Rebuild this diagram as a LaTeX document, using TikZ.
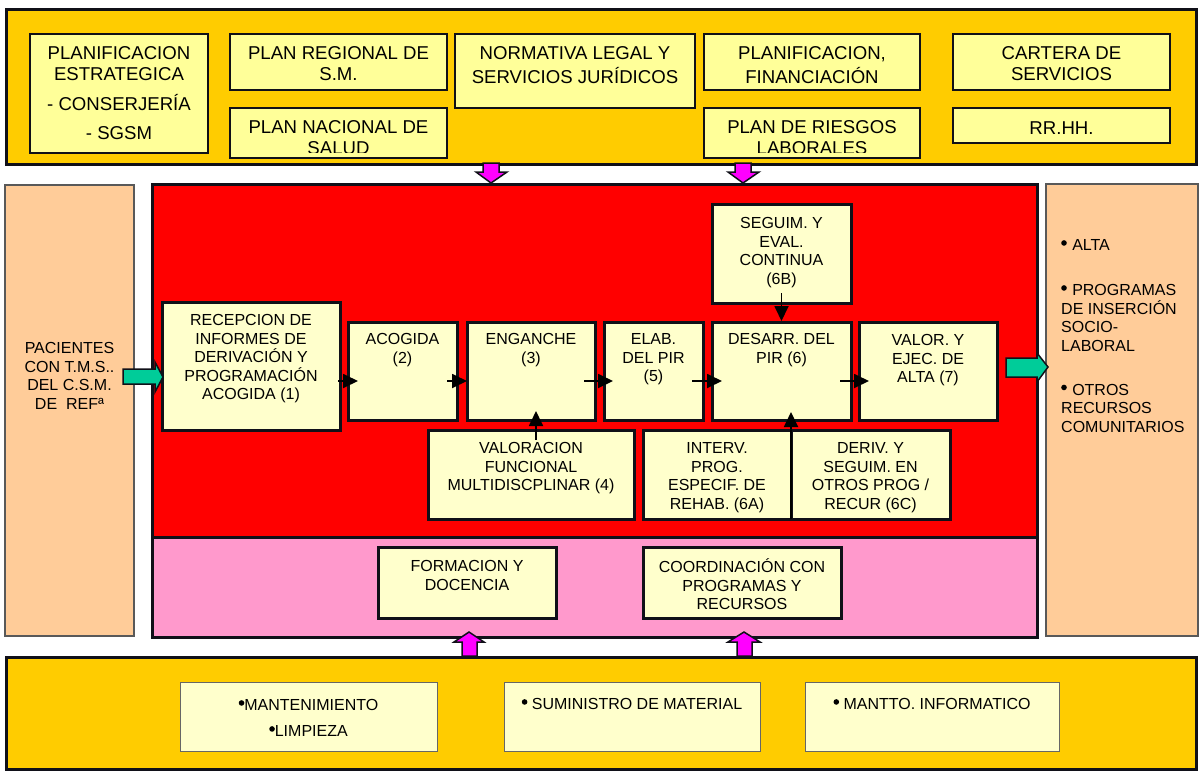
\documentclass[tikz,border=0pt]{standalone}
\usepackage{fontspec}
\setmainfont{Liberation Sans}
\usetikzlibrary{arrows.meta,calc}
\definecolor{gold}{HTML}{FFCC00}
\definecolor{lyel}{HTML}{FFFF99}
\definecolor{cream}{HTML}{FFFFCC}
\definecolor{peach}{HTML}{FFCC99}
\definecolor{pinkz}{HTML}{FF99CC}
\definecolor{redz}{HTML}{FF0000}
\definecolor{greenz}{HTML}{00CC99}
\definecolor{magz}{HTML}{FF00FF}
\definecolor{bd}{HTML}{101018}
\newcommand\mybox[6]{\node[#1, anchor=north west, minimum width={#4-#2}, minimum height={#5-#3}] (#6) at (#2,#3) {};}
\newcommand\bul{\tikz[baseline=-8pt, x=1pt, y=1pt]\fill[black] (0,0) circle (2.8pt);}
\begin{document}
\begin{tikzpicture}[x=1pt,y=-1pt,
  band/.style={draw=bd, line width=3pt, fill=gold, inner sep=0, outer sep=0},
  tbox/.style={draw=bd, line width=2pt, fill=lyel, inner sep=0, outer sep=0},
  mbox/.style={draw=bd, line width=3pt, fill=cream, inner sep=0, outer sep=0},
  bbox/.style={draw=gray!80!black, line width=1pt, fill=cream, inner sep=0, outer sep=0},
  side/.style={draw=gray!70!black, line width=1.2pt, fill=peach, inner sep=0, outer sep=0},
  region/.style={draw=bd, line width=3pt, inner sep=0, outer sep=0},
  ttop/.style={font=\fontsize{18.6}{21}\selectfont, align=center, inner sep=0, anchor=north},
  tmid/.style={font=\fontsize{16}{18.5}\selectfont, align=center, inner sep=0, anchor=north},
  arr/.style={draw=black, line width=1.8pt, -{Triangle[length=15pt,width=14pt]}},
  blockm/.style={draw=bd, line width=1.5pt, fill=magz},
  blockg/.style={draw=bd, line width=1.5pt, fill=greenz},
]
\useasboundingbox (0,0) rectangle (1202,772);
% top band
\mybox{band}{6}{9}{1196}{164}{top}
\mybox{tbox}{30}{34}{208}{153}{planest}
\node[ttop] (planestT) at (119,45) {\strut PLANIFICACION\\ESTRATEGICA\\[9pt]- CONSERJERÍA\\[8pt]- SGSM};
\mybox{tbox}{230}{34}{447}{90}{preg}
\node[ttop] (pregT) at (338.5,45) {\strut PLAN REGIONAL DE\\S.M.};
\mybox{tbox}{230}{108}{447}{158}{pnac}
\begin{scope}
\clip (231,109) rectangle (446,152);
\node[ttop] (pnacT) at (338.5,119) {\strut PLAN NACIONAL DE\\SALUD};
\end{scope}
\mybox{tbox}{455}{34}{695}{108}{norm}
\node[ttop] (normT) at (575,45) {\strut NORMATIVA LEGAL Y\\SERVICIOS JURÍDICOS};
\mybox{tbox}{704}{34}{920}{90}{pfin}
\node[ttop] (pfinT) at (812,45) {\strut PLANIFICACION,\\FINANCIACIÓN};
\mybox{tbox}{704}{108}{920}{158}{ries}
\begin{scope}
\clip (705,109) rectangle (919,152);
\node[ttop] (riesT) at (812,119) {\strut PLAN DE RIESGOS\\LABORALES};
\end{scope}
\mybox{tbox}{953}{34}{1170}{90}{cart}
\node[ttop] (cartT) at (1061.5,45) {\strut CARTERA DE\\SERVICIOS};
\mybox{tbox}{953}{108}{1170}{143}{rrhh}
\node[ttop] (rrhhT) at (1061.5,120) {\strut RR.HH.};
% side boxes
\mybox{side}{5}{185}{134}{636}{lside}
\node[tmid] (lsideT) at (69.5,340.8) {\strut PACIENTES\\CON T.M.S..\\DEL C.S.M.\\DE\ \ REFª};
\mybox{side}{1046}{184}{1198}{636}{rside}
\node[tmid, align=left, anchor=north west] (rsideT) at (1061,237.8) {\strut\bul\kern1pt\ ALTA\\[26.5pt]\bul\kern1pt\ PROGRAMAS\\DE INSERCIÓN\\SOCIO-\\LABORAL\\[25.5pt]\bul\kern1pt\ OTROS\\RECURSOS\\COMUNITARIOS};
% central regions
\mybox{region, fill=redz}{152}{184}{1037}{537}{redreg}
\mybox{region, fill=pinkz}{152}{537}{1037}{637}{pinkreg}
% process boxes
\mybox{mbox}{162}{302}{340}{430}{b1}
\node[tmid] (b1T) at (251,312.8) {\strut RECEPCION DE\\INFORMES DE\\DERIVACIÓN Y\\PROGRAMACIÓN\\ACOGIDA (1)};
\mybox{mbox}{348}{322}{457}{420}{b2}
\node[tmid] (b2T) at (402.5,331.8) {\strut ACOGIDA\\(2)};
\mybox{mbox}{467}{322}{595}{420}{b3}
\node[tmid] (b3T) at (531,331.8) {\strut ENGANCHE\\(3)};
\mybox{mbox}{604}{322}{703}{420}{b5}
\node[tmid] (b5T) at (653.5,331.8) {\strut ELAB.\\DEL PIR\\(5)};
\mybox{mbox}{712}{322}{851}{420}{b6}
\node[tmid] (b6T) at (781.5,331.8) {\strut DESARR. DEL\\PIR (6)};
\mybox{mbox}{712}{204}{851}{303}{b6b}
\node[tmid] (b6bT) at (781.5,215.8) {\strut SEGUIM. Y\\EVAL.\\CONTINUA\\(6B)};
\mybox{mbox}{859}{322}{997}{420}{b7}
\node[tmid] (b7T) at (928,332.8) {\strut VALOR. Y\\EJEC. DE\\ALTA (7)};
\mybox{mbox}{428}{430}{634}{519}{b4}
\node[tmid] (b4T) at (531,440.8) {\strut VALORACION\\FUNCIONAL\\MULTIDISCPLINAR (4)};
\mybox{mbox}{643}{430}{791}{519}{b6a}
\node[tmid] (b6aT) at (717,440.8) {\strut INTERV.\\PROG.\\ESPECIF. DE\\REHAB. (6A)};
\mybox{mbox}{791}{430}{950}{519}{b6c}
\node[tmid] (b6cT) at (870.5,440.8) {\strut DERIV. Y\\SEGUIM. EN\\OTROS PROG /\\RECUR (6C)};
\mybox{mbox}{378}{547}{556}{618}{form}
\node[tmid] (formT) at (467,558.8) {\strut FORMACION Y\\DOCENCIA};
\mybox{mbox}{643}{547}{841}{618}{coord}
\node[tmid] (coordT) at (742,558.8) {\strut COORDINACIÓN CON\\PROGRAMAS Y\\RECURSOS};
% connectors
\draw[arr] ($(b1.east)+(-2,15)$) -- ($(b2.west)+(10,10)$);
\draw[arr] ($(b2.east)+(-10,10)$) -- ($(b3.west)+(0,10)$);
\draw[arr] ($(b3.east)+(-11,10)$) -- ($(b5.west)+(9,10)$);
\draw[arr] ($(b5.east)+(-11,10)$) -- ($(b6.west)+(10,10)$);
\draw[arr] ($(b6.east)+(-11,10)$) -- ($(b7.west)+(10,10)$);
\draw[arr] ($(b6b.south)+(0,-10)$) -- ($(b6.north)+(0,-1)$);
\draw[arr] ($(b4.north)+(5,10)$) -- ($(b3.south)+(5,-9)$);
\draw[arr] (b6a.south east) -- ($(b6.south)+(9.5,-8)$);
% green block arrows
\draw[blockg] (123,369)--(155,369)--(155,362)--(163,377)--(155,392)--(155,384)--(123,384)--cycle;
\draw[blockg] (1006,358)--(1037,358)--(1037,353)--(1048,367)--(1037,382)--(1037,377)--(1006,377)--cycle;
% bottom band
\mybox{band}{6}{657}{1196}{769}{bot}
\mybox{bbox}{180}{682}{437}{751}{mant}
\node[tmid] (mantT) at (308.5,697.8) {\strut\bul MANTENIMIENTO\\[7.5pt]\bul LIMPIEZA};
\mybox{bbox}{504}{682}{760}{751}{sum}
\node[tmid] (sumT) at (632,696.8) {\strut\bul\ SUMINISTRO DE MATERIAL};
\mybox{bbox}{805}{682}{1059}{751}{inf}
\node[tmid] (infT) at (932,696.8) {\strut\bul\ MANTTO. INFORMATICO};
% magenta block arrows
\draw[blockm] (483,163)--(499,163)--(499,172)--(507,172)--(491,183)--(476,172)--(483,172)--cycle;
\draw[blockm] (735,163)--(751,163)--(751,172)--(759,172)--(743,183)--(728,172)--(735,172)--cycle;
\draw[blockm] (462,656)--(477,656)--(477,642)--(484,642)--(469,632)--(454,642)--(462,642)--cycle;
\draw[blockm] (737,656)--(752,656)--(752,642)--(760,642)--(744,632)--(728,642)--(737,642)--cycle;
\end{tikzpicture}
\end{document}
